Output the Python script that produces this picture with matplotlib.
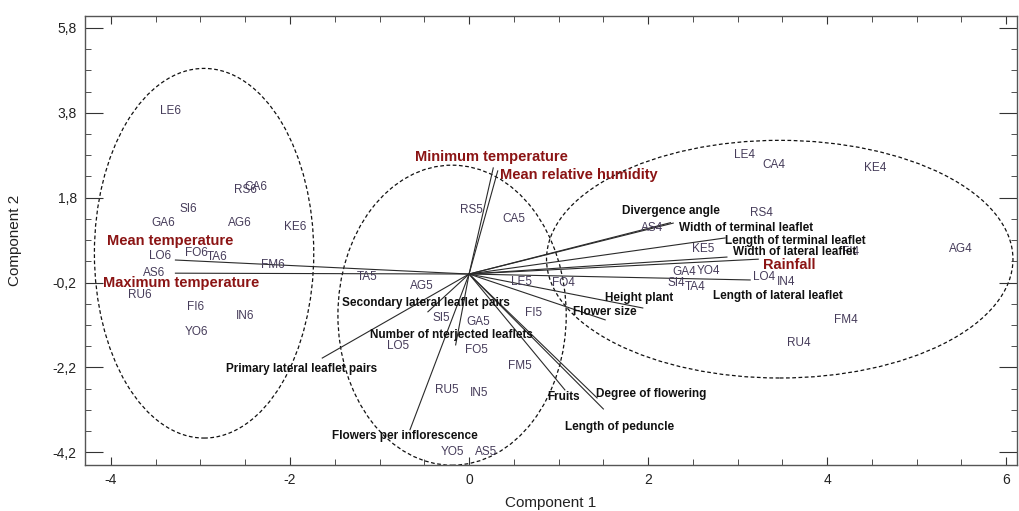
import matplotlib
matplotlib.use("Agg")
import matplotlib.pyplot as plt
from matplotlib.patches import Ellipse
from matplotlib.ticker import FixedLocator, FuncFormatter
import numpy as np

# ---------------- data ----------------
obs_labels = ["LE6", "RS6", "CA6", "SI6", "GA6", "AG6", "KE6", "LO6", "FO6", "TA6", "FM6", "AS6",
              "RU6", "FI6", "IN6", "YO6",
              "RS5", "CA5", "TA5", "AG5", "LE5", "SI5", "GA5", "FI5", "LO5", "FO5", "FM5", "RU5",
              "IN5", "YO5", "AS5", "KE5",
              "LE4", "CA4", "KE4", "RS4", "AS4", "AG4", "FI4", "GA4", "YO4", "SI4", "TA4", "LO4",
              "IN4", "FM4", "RU4", "FO4"]
obs_x = [-3.34, -2.50, -2.38, -3.14, -3.42, -2.56, -1.94, -3.45, -3.04, -2.81, -2.19, -3.52,
         -3.68, -3.05, -2.50, -3.05,
         0.03, 0.50, -1.14, -0.53, 0.59, -0.31, 0.10, 0.72, -0.79, 0.08, 0.57, -0.25,
         0.11, -0.18, 0.19, 2.61,
         3.08, 3.40, 4.54, 3.26, 2.04, 5.49, 4.26, 2.40, 2.67, 2.32, 2.53, 3.30,
         3.54, 4.21, 3.68, 1.05]
obs_y = [3.83, 1.98, 2.06, 1.53, 1.20, 1.20, 1.11, 0.42, 0.49, 0.40, 0.21, 0.03,
         -0.50, -0.78, -0.99, -1.37,
         1.51, 1.30, -0.07, -0.28, -0.19, -1.04, -1.13, -0.92, -1.70, -1.79, -2.17, -2.73,
         -2.80, -4.19, -4.19, 0.59,
         2.80, 2.57, 2.50, 1.44, 1.08, 0.59, 0.52, 0.05, 0.07, -0.21, -0.31, -0.07,
         -0.19, -1.08, -1.63, -0.21]

# variable vectors (scaled loadings): climate variables
clim_names = ["Mean temperature", "Maximum temperature", "Minimum temperature",
              "Mean relative humidity", "Rainfall"]
clim_x = [-3.28, -3.28, 0.27, 0.32, 3.23]
clim_y = [0.33, 0.02, 2.50, 2.43, 0.35]

# morphological variables
morph_names = ["Divergence angle", "Width of terminal leaflet", "Length of terminal leaflet",
               "Width of lateral leaflet", "Length of lateral leaflet", "Height plant",
               "Flower size", "Degree of flowering", "Length of peduncle", "Fruits",
               "Flowers per inflorescence", "Primary lateral leaflet pairs",
               "Number of nterjected leaflets", "Secondary lateral leaflet pairs"]
morph_x = [2.25, 2.28, 2.86, 2.88, 3.14, 1.94, 1.52, 1.43, 1.50, 1.07, -0.66, -1.64, -0.15, -0.46]
morph_y = [1.21, 1.20, 0.85, 0.40, -0.14, -0.80, -1.08, -2.92, -3.18, -2.73, -3.67, -1.98, -1.67, -0.89]

# ---------------- layout (label anchors, left edge / vertical centre) ----------------
clim_label_pos = [(-4.04, 0.78), (-4.09, -0.21), (-0.60, 2.76), (0.34, 2.33), (3.28, 0.21)]
morph_label_pos = [(1.71, 1.48), (2.34, 1.08), (2.86, 0.78), (2.95, 0.52), (2.72, -0.52),
                   (1.52, -0.57), (1.16, -0.89), (1.42, -2.83), (1.07, -3.60), (0.87, -2.90),
                   (-1.53, -3.82), (-2.72, -2.24), (-1.11, -1.44), (-1.42, -0.68)]

# group ellipses: (centre x, centre y, width, height)
ellipses = [(-2.96, 0.49, 2.45, 8.71), (-0.19, -0.97, 2.55, 7.07), (3.47, 0.35, 5.21, 5.60)]

# ---------------- figure ----------------
W, H = 1019, 511
fig = plt.figure(figsize=(W / 100, H / 100), dpi=100)
ax = fig.add_axes([85 / W, 1 - 465 / H, (1017 - 85) / W, (465 - 16) / H])
ax.set_xlim(-4.29, 6.12)
ax.set_ylim(-4.50, 6.08)

sans = ["Liberation Sans", "DejaVu Sans"]

# ellipses
for cx, cy, w, h in ellipses:
    ax.add_patch(Ellipse((cx, cy), w, h, fill=False, ls=(0, (3, 2)), lw=0.9, ec="#111111"))

# vectors
for x, y in zip(clim_x, clim_y):
    ax.plot([0, x], [0, y], color="#2a2a2a", lw=0.8)
for x, y in zip(morph_x, morph_y):
    ax.plot([0, x], [0, y], color="#2a2a2a", lw=0.8)

# observation labels
for lab, x, y in zip(obs_labels, obs_x, obs_y):
    ax.text(x, y, lab, ha="center", va="center", fontsize=8.5, color="#463c5a",
            family=sans)

# variable labels
for name, (x, y) in zip(morph_names, morph_label_pos):
    ax.text(x, y, name, ha="left", va="center", fontsize=8.5, fontweight="bold",
            color="#111111", family=sans)
for name, (x, y) in zip(clim_names, clim_label_pos):
    ax.text(x, y, name, ha="left", va="center", fontsize=10.5, fontweight="bold",
            color="#8b1414", family=sans)

# ticks
ax.xaxis.set_major_locator(FixedLocator([-4, -2, 0, 2, 4, 6]))
ax.xaxis.set_minor_locator(FixedLocator(np.arange(-4, 6.01, 0.5)))
yt_major = [5.8, 3.8, 1.8, -0.2, -2.2, -4.2]
ax.yaxis.set_major_locator(FixedLocator(yt_major))
ax.yaxis.set_minor_locator(FixedLocator(np.round(np.arange(-4.2, 5.81, 0.5), 2)))
ax.xaxis.set_major_formatter(FuncFormatter(lambda v, p: "%d" % round(v)))
ax.yaxis.set_major_formatter(FuncFormatter(lambda v, p: ("%.1f" % v).replace(".", ",")))
ax.tick_params(axis="both", which="both", direction="in", top=True, right=True,
               color="#333333", labelsize=10, labelcolor="#222222")
ax.tick_params(axis="x", which="major", length=6, pad=6)
ax.tick_params(axis="x", which="minor", length=4)
ax.tick_params(axis="y", which="major", length=13, pad=6)
ax.tick_params(axis="y", which="minor", length=4)
for t in ax.get_xticklabels() + ax.get_yticklabels():
    t.set_family(sans)
for s in ax.spines.values():
    s.set_color("#555555")
    s.set_linewidth(1.0)

ax.set_xlabel("Component 1", fontsize=11, family=sans, color="#222222", labelpad=6)
ax.set_ylabel("Component 2", fontsize=11, family=sans, color="#222222", labelpad=22)

fig.savefig("out.png", dpi=100)
